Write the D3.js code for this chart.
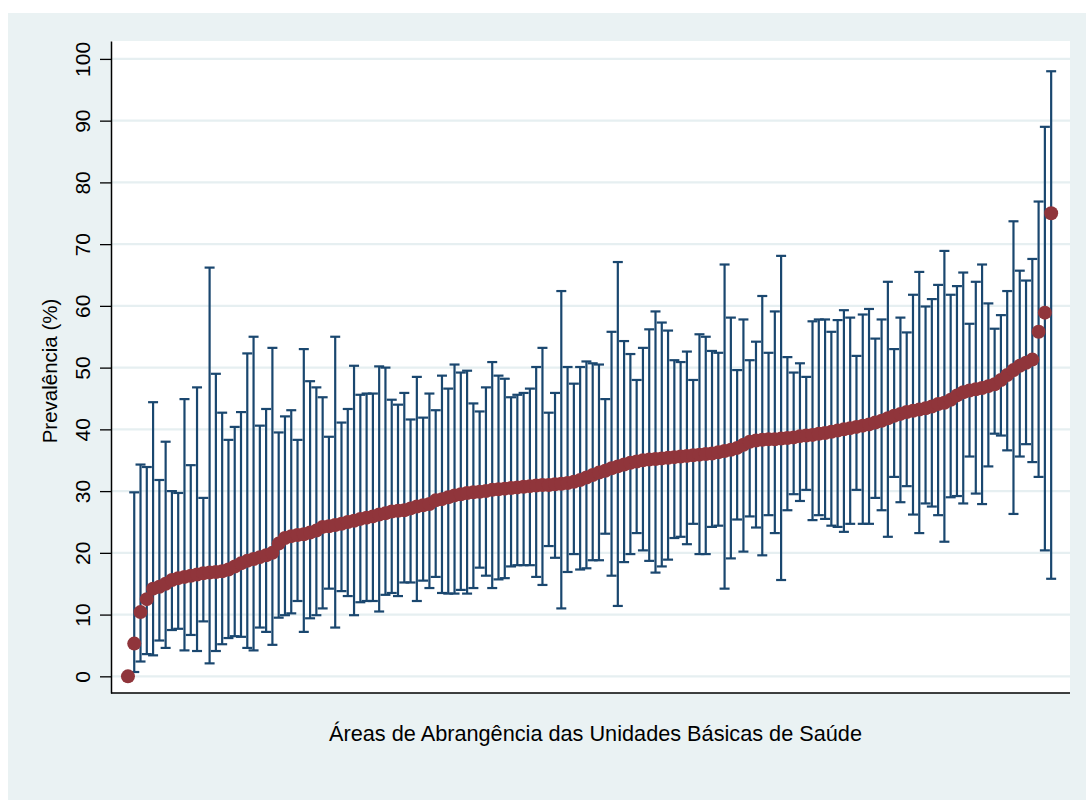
<!DOCTYPE html>
<html>
<head>
<meta charset="utf-8">
<script src="https://cdn.jsdelivr.net/npm/d3@7"></script>
<style>
  body { margin: 0; background: #ffffff; }
  text { font-family: "Liberation Sans", Arial, sans-serif; fill: #000; }
</style>
</head>
<body>
<div id="chart"></div>
<script>
// prevalence (%) per area, sorted by mean
const means = [
    0, 5.3, 10.4, 12.5, 14.2, 14.5, 15.0, 15.6, 15.9, 16.1, 16.3, 16.5, 16.7, 16.8, 16.9, 17.0, 17.3,
    17.8, 18.3, 18.7, 19.0, 19.3, 19.6, 20.0, 21.5, 22.4, 22.7, 22.9, 23.0, 23.3, 23.6, 24.2, 24.3, 24.5, 24.7, 25.0,
    25.2, 25.5, 25.7, 25.9, 26.2, 26.4, 26.7, 26.8, 26.9, 27.2, 27.5, 27.7, 27.9, 28.5, 28.7, 29.0, 29.3, 29.5,
    29.7, 29.8, 29.9, 30.0, 30.2, 30.3, 30.4, 30.5, 30.6, 30.7, 30.8, 30.9, 31.0, 31.0, 31.1, 31.2, 31.3, 31.5, 31.8, 32.2,
    32.6, 33.0, 33.3, 33.7, 34.0, 34.3, 34.6, 34.8, 35.0, 35.1, 35.2, 35.3, 35.4, 35.5, 35.6, 35.7, 35.8, 35.9,
    36.0, 36.1, 36.3, 36.5, 36.7, 37.0, 37.5, 38.0, 38.2, 38.3, 38.4, 38.4, 38.5, 38.6, 38.7, 38.9, 39.0, 39.1, 39.3,
    39.4, 39.6, 39.8, 40.0, 40.2, 40.4, 40.6, 40.8, 41.1, 41.4, 41.8, 42.2, 42.5, 42.8, 43.0, 43.2, 43.4, 43.7, 44.1,
    44.3, 44.8, 45.5, 46.0, 46.3, 46.5, 46.7, 47.0, 47.3, 48.0, 48.8, 49.6, 50.3, 50.8, 51.3, 55.8, 58.9, 75.0
];
const upper = [
    0, 29.8, 34.3, 33.9, 44.4, 31.8, 38.0, 30.0, 29.7, 44.9, 34.2, 46.8, 28.9, 66.2, 49.0, 42.7, 38.3,
    40.4, 42.8, 52.3, 55.0, 40.6, 43.3, 53.2, 39.5, 42.1, 43.1, 38.3, 53.0, 47.8, 46.8, 45.2, 38.8, 55.0, 41.1, 43.3,
    50.3, 45.6, 45.8, 45.8, 50.2, 50.0, 44.8, 44.0, 45.9, 41.6, 48.5, 41.9, 45.8, 43.1, 48.7, 46.6, 50.5, 49.2,
    49.5, 44.2, 42.9, 46.8, 50.9, 48.7, 48.2, 45.2, 45.6, 45.9, 46.6, 50.1, 53.2, 42.7, 45.9, 62.4, 50.1, 47.4, 50.1, 51.0,
    50.7, 50.5, 44.9, 55.8, 67.1, 54.3, 52.2, 48.0, 53.2, 56.2, 59.1, 57.3, 56.0, 51.2, 50.9, 52.6, 48.0, 55.4,
    55.0, 52.7, 52.4, 66.7, 58.1, 49.6, 57.8, 51.2, 54.2, 61.6, 52.4, 59.1, 68.1, 51.7, 49.2, 50.7, 48.5, 57.5, 57.8,
    57.8, 55.8, 57.7, 59.3, 58.1, 51.9, 58.6, 59.5, 54.7, 57.8, 63.9, 53.0, 58.1, 55.7, 61.8, 65.5, 59.9, 61.1, 63.4,
    68.9, 61.8, 63.2, 65.4, 57.1, 63.9, 66.7, 60.4, 56.3, 58.5, 62.4, 73.7, 65.7, 64.1, 67.6, 76.9, 89.0, 98.0
];
const lower = [
    0, 0.7, 2.4, 3.6, 3.4, 5.8, 4.6, 7.5, 7.7, 4.2, 6.7, 4.1, 8.9, 2.1, 4.1, 5.2, 6.2,
    6.5, 6.4, 4.6, 4.2, 7.9, 7.2, 5.1, 9.5, 9.9, 10.2, 12.2, 7.2, 9.4, 9.9, 11.0, 14.2, 7.9, 13.8, 13.0,
    9.9, 12.0, 12.2, 12.2, 10.5, 13.2, 13.5, 13.0, 15.2, 15.2, 12.2, 15.5, 14.3, 16.1, 13.5, 13.4, 13.4, 14.0,
    13.4, 14.3, 17.6, 16.3, 14.3, 15.7, 15.9, 17.8, 18.0, 18.0, 18.0, 16.1, 14.8, 21.1, 19.2, 11.0, 16.9, 19.8, 17.3, 17.5,
    18.8, 18.8, 23.1, 16.3, 11.4, 18.5, 19.8, 23.2, 20.4, 18.7, 16.8, 17.8, 18.9, 22.4, 22.6, 21.4, 24.7, 19.8,
    19.8, 24.2, 24.4, 14.2, 19.1, 25.4, 20.2, 25.9, 24.1, 19.6, 26.1, 23.2, 15.6, 26.9, 29.5, 28.4, 30.2, 25.3, 26.1,
    25.5, 24.4, 24.2, 23.4, 24.7, 30.2, 24.7, 24.7, 28.9, 26.9, 22.6, 32.3, 28.2, 30.8, 26.2, 23.2, 28.0, 27.5, 26.1,
    21.8, 29.0, 29.2, 28.0, 35.6, 29.6, 27.9, 34.0, 39.3, 39.0, 36.6, 26.3, 35.6, 37.6, 34.7, 32.3, 20.4, 15.8
];
const yTicks = [0, 10, 20, 30, 40, 50, 60, 70, 80, 90, 100];
const yTitle = "Prevalência (%)";
const xTitle = "Áreas de Abrangência das Unidades Básicas de Saúde";

let data = means.map((m, i) => ({id: i + 1, mean: m, lo: lower[i], hi: upper[i]}));

let W = 1086, H = 800;
let plot = {left: 111, right: 1070, top: 41, bottom: 693};

let x = d3.scaleLinear()
    .domain([-1.7, data.length + 3])
    .range([plot.left, plot.right]);
let y = d3.scaleLinear()
    .domain([-2.7, 102.9])
    .range([plot.bottom, plot.top]);

let svg = d3.select('#chart')
    .append("svg")
    .attr("width", W)
    .attr("height", H);

// outer graph region
svg.append("rect")
    .attr("x", 8).attr("y", 13)
    .attr("width", W - 8).attr("height", H - 13)
    .attr("fill", "#eaf2f3");

// plot region
svg.append("rect")
    .attr("x", plot.left).attr("y", plot.top)
    .attr("width", plot.right - plot.left).attr("height", plot.bottom - plot.top)
    .attr("fill", "#ffffff");

svg.append("g")
    .selectAll("line")
    .data(yTicks)
    .join("line")
    .attr("x1", plot.left).attr("x2", plot.right)
    .attr("y1", d => y(d)).attr("y2", d => y(d))
    .attr("stroke", "#e6eff1")
    .attr("stroke-width", 2.2);

// confidence intervals
let bars = svg.append("g")
    .attr("stroke", "#1a476f")
    .attr("stroke-width", 2.2)
    .attr("fill", "none");

bars.selectAll(".ci")
    .data(data)
    .join("line")
    .attr("class", "ci")
    .attr("x1", d => x(d.id)).attr("x2", d => x(d.id))
    .attr("y1", d => y(d.lo)).attr("y2", d => y(d.hi));

bars.selectAll(".cap-hi")
    .data(data)
    .join("line")
    .attr("class", "cap-hi")
    .attr("x1", d => x(d.id) - 5).attr("x2", d => x(d.id) + 5)
    .attr("y1", d => y(d.hi)).attr("y2", d => y(d.hi));

bars.selectAll(".cap-lo")
    .data(data)
    .join("line")
    .attr("class", "cap-lo")
    .attr("x1", d => x(d.id) - 5).attr("x2", d => x(d.id) + 5)
    .attr("y1", d => y(d.lo)).attr("y2", d => y(d.lo));

svg.append("g")
    .selectAll("circle")
    .data(data)
    .join("circle")
    .attr("cx", d => x(d.id))
    .attr("cy", d => y(d.mean))
    .attr("r", 7)
    .attr("fill", "#90353b");

// axes
let yAxis = svg.append("g")
    .attr("transform", `translate(${plot.left},0)`)
    .call(d3.axisLeft(y).tickValues(yTicks).tickSize(11).tickSizeOuter(0));
yAxis.select(".domain").attr("stroke", "#000").attr("stroke-width", 1.5);
yAxis.selectAll(".tick line").attr("stroke", "#000").attr("stroke-width", 1.3);
yAxis.selectAll(".tick text")
    .attr("x", 0).attr("dy", 0)
    .attr("transform", "translate(-21,0) rotate(-90)")
    .attr("text-anchor", "middle")
    .attr("font-family", "Liberation Sans, Arial, sans-serif")
    .attr("font-size", 21)
    .attr("fill", "#000");

svg.append("line")
    .attr("x1", plot.left).attr("x2", plot.right)
    .attr("y1", plot.bottom).attr("y2", plot.bottom)
    .attr("stroke", "#000")
    .attr("stroke-width", 1.5);

svg.append("text")
    .attr("transform", `translate(57,${(plot.top + plot.bottom) / 2 + 4}) rotate(-90)`)
    .attr("text-anchor", "middle")
    .attr("font-size", 20.5)
    .text(yTitle);

svg.append("text")
    .attr("x", (plot.left + plot.right) / 2 + 5)
    .attr("y", 741)
    .attr("text-anchor", "middle")
    .attr("font-size", 21.7)
    .text(xTitle);
</script>
</body>
</html>
